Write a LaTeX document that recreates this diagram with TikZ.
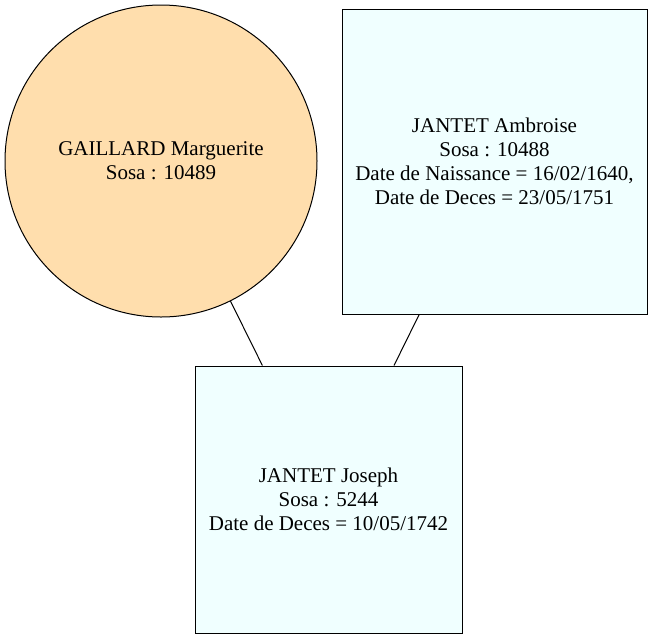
\documentclass[tikz,border=0pt]{standalone}
\usepackage{fontspec}
\setmainfont{Liberation Serif}
\definecolor{circfill}{HTML}{FFDEAD}
\definecolor{boxfill}{HTML}{F0FFFF}
\begin{document}
\begin{tikzpicture}[x=1pt,y=-1pt,
  person/.style={draw=black, line width=1pt, align=center, inner sep=0pt,
    font=\fontsize{21pt}{24pt}\selectfont},
  female/.style={person, circle, fill=circfill, minimum size=312pt},
  male/.style={person, rectangle, fill=boxfill},
  link/.style={draw=black, line width=1pt}]
\useasboundingbox (0,0) rectangle (653,638);
\node[female] (gm) at (161,161) {GAILLARD Marguerite\\Sosa : 10489};
\node[male, minimum width=305pt, minimum height=305pt] (ja) at (494.5,161.5)
  {JANTET Ambroise\\Sosa : 10488\\Date de Naissance = 16/02/1640,\\Date de Deces = 23/05/1751};
\node[male, minimum width=267pt, minimum height=267pt] (jj) at (328.5,499.5)
  {JANTET Joseph\\Sosa : 5244\\Date de Deces = 10/05/1742};
\draw[link] (gm) -- (jj);
\draw[link] (ja) -- (jj);
\end{tikzpicture}
\end{document}
